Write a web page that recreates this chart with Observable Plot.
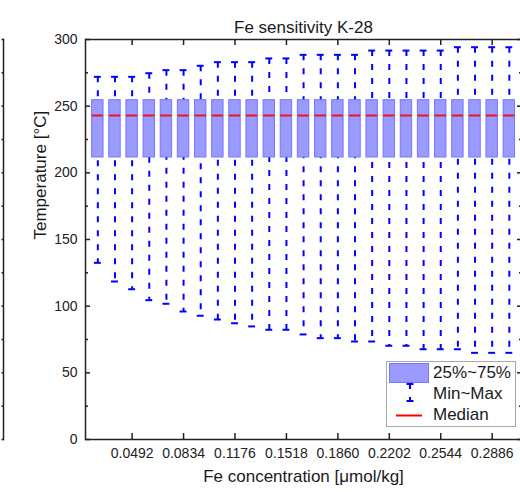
<!DOCTYPE html>
<html>
<head>
<meta charset="utf-8">
<script src="https://cdn.jsdelivr.net/npm/d3@7"></script>
<script src="https://cdn.jsdelivr.net/npm/@observablehq/plot@0.6"></script>
<style>
  html, body { margin: 0; padding: 0; background: #fff; overflow: hidden; }
  #wrap { position: relative; width: 520px; height: 492px; overflow: hidden; background: #fff;
          font-family: "Liberation Sans", Arial, sans-serif; color: #1a1a1a; }
  #main, #leftpanel { position: absolute; left: 0; top: 0; }
  #main svg, #leftpanel svg { max-width: none !important; }
  #legend { position: absolute; left: 386px; top: 361px; width: 128px; height: 64px;
            border: 1px solid #a8a8a8; background: #fff; }
  #legend .lab { position: absolute; left: 46px; font-size: 17px; line-height: 19px; white-space: nowrap; }
  #legend svg { position: absolute; left: 0; top: 0; }
</style>
</head>
<body>
<div id="wrap">
  <div id="main"></div>
  <div id="leftpanel"></div>
  <div id="legend"></div>
</div>
<script>
// ---- data ----
const xPositions = [0.0264, 0.0378, 0.0492, 0.0606, 0.0720, 0.0834, 0.0948, 0.1062, 0.1176, 0.1290,
                    0.1404, 0.1518, 0.1632, 0.1746, 0.1860, 0.1974, 0.2088, 0.2202, 0.2316, 0.2430,
                    0.2544, 0.2658, 0.2772, 0.2886, 0.3000];
const minValues = [132.5, 118.5, 112.7, 104.5, 101.8, 96.0, 92.8, 90.0, 87.2, 84.8,
                   82.3, 82.3, 78.8, 76.0, 76.0, 73.5, 73.5, 70.3, 70.3, 67.7,
                   67.7, 67.7, 65.0, 65.0, 65.0];
const q1Values = [211.5, 211.5, 211.5, 211.5, 211.5, 211.5, 211.5, 211.5, 211.5, 211.5,
                  211.5, 211.5, 211.5, 211.5, 211.5, 211.5, 211.5, 211.5, 211.5, 211.5,
                  211.5, 211.5, 211.5, 211.5, 211.5];
const medianValues = [243, 243, 243, 243, 243, 243, 243, 243, 243, 243,
                      243, 243, 243, 243, 243, 243, 243, 243, 243, 243,
                      243, 243, 243, 243, 243];
const q3Values = [254.5, 254.5, 254.5, 254.5, 254.5, 254.5, 254.5, 254.5, 254.5, 254.5,
                  254.5, 254.5, 254.5, 254.5, 254.5, 254.5, 254.5, 254.5, 254.5, 254.5,
                  254.5, 254.5, 254.5, 254.5, 254.5];
const maxValues = [272.0, 272.0, 272.0, 274.7, 277.0, 277.0, 280.3, 283.0, 283.0, 283.0,
                   285.8, 285.8, 288.5, 288.5, 288.5, 288.5, 291.7, 291.7, 291.7, 291.7,
                   291.7, 294.2, 294.2, 294.2, 294.2];
const xTickValues = [0.0492, 0.0834, 0.1176, 0.1518, 0.1860, 0.2202, 0.2544, 0.2886];
const yTickValues = [0, 50, 100, 150, 200, 250, 300];
const yMinorTickValues = [25, 75, 125, 175, 225, 275];
const titleText = "Fe sensitivity K-28";
const xLabel = "Fe concentration [μmol/kg]";
const yLabel = "Temperature [°C]";
const legendLabels = ["25%~75%", "Min~Max", "Median"];

const boxes = xPositions.map((x, i) => ({
  x, min: minValues[i], q1: q1Values[i], median: medianValues[i], q3: q3Values[i], max: maxValues[i]
}));

const boxHalf = 0.0038;   // half box width (x units)
const capHalf = 0.0023;   // half whisker-cap width
const fill = "#9a9aff", boxStroke = "#7676ff", blue = "#0000ff", axisColor = "#222";
const font = "Liberation Sans, Arial, sans-serif";

const chart = Plot.plot({
  width: 530, height: 492,
  marginTop: 39, marginBottom: 53, marginLeft: 85, marginRight: 9,
  x: {domain: [0.0182, 0.3081]},
  y: {domain: [0, 300]},
  style: {fontFamily: font, color: axisColor, background: "white", overflow: "visible", maxWidth: "none"},
  marks: [
    Plot.ruleX(boxes, {x: "x", y1: "max", y2: "min", stroke: blue, strokeWidth: 2, strokeDasharray: "6,8"}),
    Plot.ruleY(boxes, {y: "max", x1: d => d.x - capHalf, x2: d => d.x + capHalf, stroke: blue, strokeWidth: 2}),
    Plot.ruleY(boxes, {y: "min", x1: d => d.x - capHalf, x2: d => d.x + capHalf, stroke: blue, strokeWidth: 2}),
    Plot.rect(boxes, {x1: d => d.x - boxHalf, x2: d => d.x + boxHalf, y1: "q1", y2: "q3",
                      fill, stroke: boxStroke, strokeWidth: 1}),
    Plot.ruleY(boxes, {y: "median", x1: d => d.x - boxHalf, x2: d => d.x + boxHalf,
                       stroke: "red", strokeWidth: 2, strokeOpacity: 0.88}),
    Plot.frame({stroke: axisColor, strokeWidth: 1.5}),
    // left axis (inward ticks)
    Plot.axisY({anchor: "left", ticks: yTickValues, tickSize: 5, insetLeft: 5, tickPadding: 8,
                fontSize: 14, tickFormat: d => String(d), strokeWidth: 1.5, label: null}),
    Plot.axisY({anchor: "left", ticks: yMinorTickValues, tickSize: 3, insetLeft: 3,
                tickFormat: () => "", strokeWidth: 1.5, label: null}),
    // right axis ticks (inward)
    Plot.axisY({anchor: "right", ticks: yTickValues, tickSize: 5, insetRight: 5,
                tickFormat: () => "", strokeWidth: 1.5, label: null}),
    Plot.axisY({anchor: "right", ticks: yMinorTickValues, tickSize: 3, insetRight: 3,
                tickFormat: () => "", strokeWidth: 1.5, label: null}),
    // bottom axis
    Plot.axisX({anchor: "bottom", ticks: xTickValues, tickSize: 6, insetBottom: 6, tickPadding: 9,
                fontSize: 14, tickFormat: d => d.toFixed(4), strokeWidth: 1.5, label: null}),
    // top axis ticks
    Plot.axisX({anchor: "top", ticks: xTickValues, tickSize: 5, insetTop: 5,
                tickFormat: () => "", strokeWidth: 1.5, label: null}),
    // titles
    Plot.text([titleText], {text: d => d, frameAnchor: "top", dy: -19, fontSize: 17, fill: "#1a1a1a"}),
    Plot.text([xLabel], {text: d => d, frameAnchor: "bottom", dy: 42, fontSize: 17, fill: "#1a1a1a"}),
    Plot.text([yLabel], {text: d => d, frameAnchor: "left", dx: -45, rotate: -90, fontSize: 17, fill: "#1a1a1a"})
  ]
});
document.getElementById("main").appendChild(chart);

// fragment of the neighbouring panel at the left edge
const leftFrag = Plot.plot({
  width: 6, height: 492,
  marginTop: 39, marginBottom: 53, marginLeft: 0, marginRight: 3,
  y: {domain: [0, 300]},
  style: {background: "transparent", color: axisColor, overflow: "visible", maxWidth: "none"},
  marks: [
    Plot.frame({anchor: "right", stroke: axisColor, strokeWidth: 1.5}),
    Plot.axisY({anchor: "right", ticks: yTickValues.concat(yMinorTickValues), tickSize: 2.5, insetRight: 2.5,
                tickFormat: () => "", strokeWidth: 1.5, label: null})
  ]
});
document.getElementById("leftpanel").appendChild(leftFrag);

// legend
const lg = document.getElementById("legend");
lg.innerHTML = `
<svg width="128" height="64">
  <rect x="2.5" y="1.5" width="39" height="19" fill="${fill}" stroke="${boxStroke}" stroke-width="1"></rect>
  <line x1="23" y1="22" x2="23" y2="39" stroke="${blue}" stroke-width="2" stroke-dasharray="5,8"></line>
  <line x1="19.5" y1="22" x2="26.5" y2="22" stroke="${blue}" stroke-width="2"></line>
  <line x1="19.5" y1="39" x2="26.5" y2="39" stroke="${blue}" stroke-width="2"></line>
  <line x1="9" y1="53.5" x2="35" y2="53.5" stroke="red" stroke-width="2"></line>
</svg>
<div class="lab" style="top:1px">${legendLabels[0]}</div>
<div class="lab" style="top:22px">${legendLabels[1]}</div>
<div class="lab" style="top:43px">${legendLabels[2]}</div>`;
</script>
</body>
</html>
